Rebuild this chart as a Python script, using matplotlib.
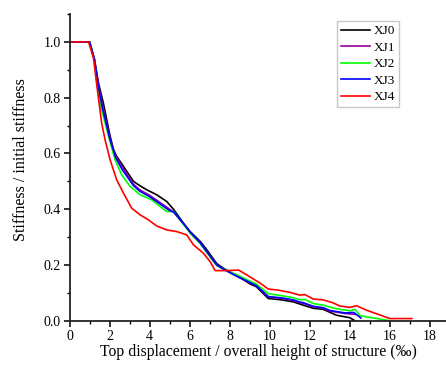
import matplotlib
matplotlib.use("Agg")
import matplotlib.pyplot as plt
from matplotlib.ticker import MultipleLocator

plt.rcParams['font.family'] = ['Liberation Serif', 'DejaVu Serif']

# series (x = top displacement / height in permille)
xj0_x = [0, 1.0, 1.24, 1.45, 1.69, 2.0, 2.19, 2.35, 2.69, 3.19, 3.5, 3.85, 4.35, 4.85, 5.19, 5.69, 6.02, 6.52, 6.85, 7.35, 7.69, 8.35, 9.02, 9.33, 9.92, 10.6, 11.17, 11.67, 12.17, 12.67, 13.33, 14.0, 14.25]
xj0_y = [1.0, 1.0, 0.938, 0.85, 0.78, 0.67, 0.614, 0.59, 0.554, 0.50, 0.485, 0.47, 0.452, 0.428, 0.40, 0.35, 0.32, 0.285, 0.255, 0.205, 0.188, 0.162, 0.132, 0.122, 0.08, 0.075, 0.068, 0.056, 0.045, 0.041, 0.02, 0.011, 0.0]

xj1_x = [0, 1.0, 1.24, 1.45, 1.65, 2.0, 2.3, 2.69, 3.19, 3.5, 4.0, 4.5, 5.0, 5.2, 5.69, 6.02, 6.52, 6.85, 7.35, 7.69, 8.35, 9.02, 9.33, 9.92, 10.6, 11.17, 11.5, 11.67, 12.17, 12.67, 13.0, 13.77, 14.27]
xj1_y = [1.0, 1.0, 0.938, 0.84, 0.77, 0.66, 0.59, 0.545, 0.49, 0.47, 0.45, 0.425, 0.40, 0.39, 0.348, 0.318, 0.28, 0.248, 0.20, 0.185, 0.16, 0.136, 0.125, 0.085, 0.08, 0.073, 0.065, 0.063, 0.05, 0.045, 0.035, 0.026, 0.023]

xj2_x = [0, 1.0, 1.24, 1.42, 1.52, 1.99, 2.27, 2.6, 3.02, 3.52, 4.1, 4.52, 4.85, 5.19, 5.52, 6.02, 6.52, 6.85, 7.35, 7.69, 8.35, 9.02, 9.33, 9.92, 10.6, 11.17, 11.5, 11.75, 12.17, 12.67, 13.17, 13.5, 14.0, 14.25, 14.52, 16.0]
xj2_y = [1.0, 1.0, 0.938, 0.83, 0.78, 0.65, 0.578, 0.524, 0.482, 0.452, 0.434, 0.41, 0.392, 0.392, 0.362, 0.314, 0.278, 0.245, 0.198, 0.185, 0.165, 0.142, 0.132, 0.097, 0.09, 0.083, 0.075, 0.077, 0.062, 0.056, 0.046, 0.041, 0.036, 0.041, 0.018, 0.0]

xj3_x = [0, 1.0, 1.24, 1.45, 1.62, 2.0, 2.3, 2.65, 3.19, 3.5, 4.0, 4.5, 5.0, 5.2, 5.69, 6.02, 6.52, 6.85, 7.35, 7.69, 8.35, 9.02, 9.33, 9.92, 10.6, 11.17, 11.5, 11.67, 12.17, 12.67, 13.0, 13.77, 14.19, 14.55]
xj3_y = [1.0, 1.0, 0.938, 0.835, 0.77, 0.655, 0.585, 0.54, 0.485, 0.465, 0.445, 0.42, 0.395, 0.39, 0.348, 0.318, 0.28, 0.248, 0.20, 0.185, 0.16, 0.137, 0.126, 0.087, 0.082, 0.075, 0.067, 0.065, 0.052, 0.047, 0.037, 0.028, 0.03, 0.01]

xj4_x = [0, 0.95, 1.2, 1.35, 1.44, 1.6, 1.77, 2.02, 2.35, 2.69, 3.1, 3.52, 3.94, 4.35, 4.85, 5.35, 5.85, 6.19, 6.69, 7.02, 7.27, 7.85, 8.44, 9.02, 9.52, 9.92, 10.42, 11.0, 11.5, 11.75, 12.17, 12.67, 13.17, 13.5, 14.0, 14.33, 14.83, 16.0, 17.1]
xj4_y = [1.0, 1.0, 0.94, 0.85, 0.80, 0.71, 0.65, 0.578, 0.506, 0.458, 0.404, 0.38, 0.362, 0.34, 0.326, 0.32, 0.308, 0.272, 0.242, 0.212, 0.18, 0.18, 0.182, 0.157, 0.135, 0.114, 0.11, 0.102, 0.092, 0.094, 0.078, 0.075, 0.064, 0.053, 0.048, 0.054, 0.038, 0.008, 0.008]

labels = ['XJ0', 'XJ1', 'XJ2', 'XJ3', 'XJ4']
colors = ['#000000', '#990099', '#00ff00', '#0000ff', '#ff0000']

fig = plt.figure(figsize=(4.46, 3.70), dpi=100)
ax = fig.add_axes([0.156, 0.133, 0.844, 0.829])

series = [(xj0_x, xj0_y), (xj1_x, xj1_y), (xj2_x, xj2_y), (xj3_x, xj3_y), (xj4_x, xj4_y)]
for (xs, ys), lab, c in zip(series, labels, colors):
    ax.plot(xs, ys, color=c, lw=1.2, label=lab)

ax.set_xlim(0, 18.8)
ax.set_ylim(0, 1.1)
ax.xaxis.set_major_locator(MultipleLocator(2))
ax.xaxis.set_minor_locator(MultipleLocator(1))
ax.yaxis.set_major_locator(MultipleLocator(0.2))
ax.yaxis.set_minor_locator(MultipleLocator(0.1))
ax.yaxis.set_major_formatter(matplotlib.ticker.FormatStrFormatter('%.1f'))

for s in ['top', 'right']:
    ax.spines[s].set_visible(False)
for s in ['left', 'bottom']:
    ax.spines[s].set_linewidth(1.3)
    ax.spines[s].set_color('#222222')
ax.tick_params(which='major', direction='out', length=4.5, width=1.1, labelsize=10, pad=2)
ax.tick_params(which='minor', direction='out', length=2.5, width=1.0)

ax.set_xlabel('Top displacement / overall height of structure (‰)', fontsize=11.3)
ax.set_ylabel('Stiffness / initial stiffness', fontsize=11.5)
ax.xaxis.set_label_coords(0.501, -0.103)
ax.xaxis.label.set_va('center')
ax.yaxis.set_label_coords(-0.129, 0.527)
ax.yaxis.label.set_va('center')

leg = ax.legend(loc='upper left', bbox_to_anchor=(0.711, 0.977), fontsize=9.5, frameon=True,
                fancybox=False, edgecolor='#bbbbbb', handlelength=2.2, handletextpad=0.25,
                labelspacing=0.32, borderpad=0.3, borderaxespad=0)
leg.get_frame().set_linewidth(1.0)

fig.savefig('out.png', dpi=100)
